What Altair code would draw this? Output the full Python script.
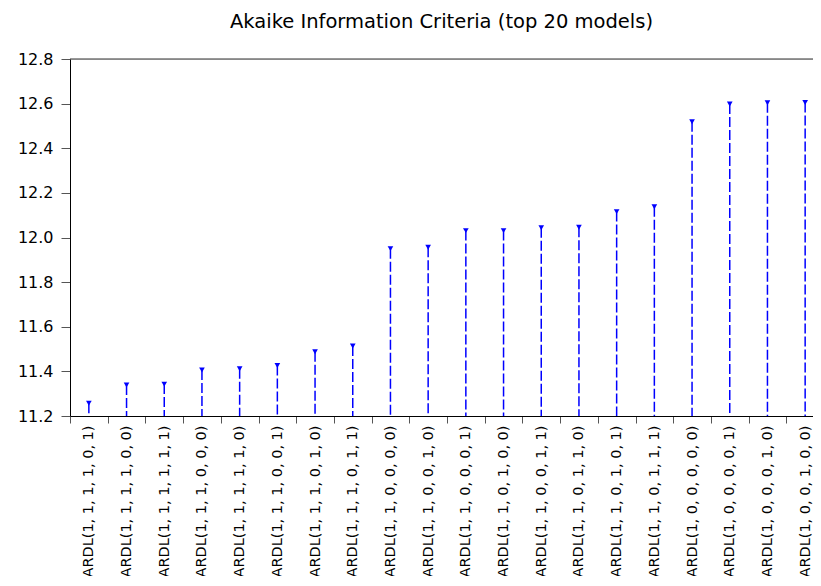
import altair as alt
import pandas as pd

models = [
    "ARDL(1, 1, 1, 1, 0, 1)", "ARDL(1, 1, 1, 1, 0, 0)", "ARDL(1, 1, 1, 1, 1, 1)",
    "ARDL(1, 1, 1, 0, 0, 0)", "ARDL(1, 1, 1, 1, 1, 0)", "ARDL(1, 1, 1, 0, 0, 1)",
    "ARDL(1, 1, 1, 0, 1, 0)", "ARDL(1, 1, 1, 0, 1, 1)", "ARDL(1, 1, 0, 0, 0, 0)",
    "ARDL(1, 1, 0, 0, 1, 0)", "ARDL(1, 1, 0, 0, 0, 1)", "ARDL(1, 1, 0, 1, 0, 0)",
    "ARDL(1, 1, 0, 0, 1, 1)", "ARDL(1, 1, 0, 1, 1, 0)", "ARDL(1, 1, 0, 1, 0, 1)",
    "ARDL(1, 1, 0, 1, 1, 1)", "ARDL(1, 0, 0, 0, 0, 0)", "ARDL(1, 0, 0, 0, 0, 1)",
    "ARDL(1, 0, 0, 0, 1, 0)", "ARDL(1, 0, 0, 1, 0, 0)",
]
aic = [
    11.257, 11.339, 11.343, 11.406, 11.412, 11.426, 11.488, 11.514, 11.950, 11.956,
    12.031, 12.031, 12.044, 12.046, 12.116, 12.138, 12.519, 12.598, 12.604, 12.605,
]
y_ticks = [11.2, 11.4, 11.6, 11.8, 12.0, 12.2, 12.4, 12.6, 12.8]

df = pd.DataFrame({"model": models, "aic": aic})

FONT = "DejaVu Sans"
BAND_EXTENT = 754  # x scale range: the plot runs on to the right page edge

x_enc = alt.X(
    "model:N",
    sort=models,
    scale=alt.Scale(paddingInner=0, paddingOuter=0, range=[0, BAND_EXTENT]),
    axis=alt.Axis(
        title=None,
        labelAngle=-90,
        labelFont=FONT,
        labelFontSize=14.5,
        labelColor="black",
        labelPadding=2,
        tickBand="extent",
        tickSize=7,
        tickColor="#555555",
        domainColor="black",
        labelOverlap=False,
    ),
)
y_scale = alt.Scale(domain=[11.2, 12.8], nice=False, zero=False)
y_axis = alt.Axis(
    title=None,
    values=y_ticks,
    format=".1f",
    labelFont=FONT,
    labelFontSize=16,
    labelColor="black",
    labelPadding=8,
    tickSize=9,
    tickColor="#555555",
    domainColor="black",
    grid=False,
)

stems = alt.Chart(df).mark_rule(
    color="#0000FF", strokeWidth=1.5, strokeDash=[10, 3]
).encode(
    x=x_enc,
    y=alt.Y("aic:Q", scale=y_scale, axis=y_axis),
    y2=alt.datum(11.2),
)

markers = alt.Chart(df).mark_point(
    shape="triangle-down", filled=True, color="#0000FF", size=32, opacity=1
).encode(
    x=x_enc,
    y=alt.Y("aic:Q", scale=y_scale, axis=y_axis),
)

top_frame = alt.Chart().mark_rule(color="#333333", strokeWidth=1.2).encode(
    x=alt.value(0), x2=alt.value(BAND_EXTENT), y=alt.value(0)
)

chart = (
    alt.layer(stems, markers, top_frame)
    .properties(
        width=743,
        height=357,
        autosize=alt.AutoSizeParams(type="none"),
        padding={"left": 62, "top": 51, "right": 0, "bottom": 160},
        title=alt.TitleParams(
            "Akaike Information Criteria (top 20 models)",
            font=FONT,
            fontSize=19.5,
            fontWeight="normal",
            color="black",
            anchor="middle",
            offset=19,
        ),
    )
    .configure_view(stroke=None)
    .configure(background="white")
)

chart.save("out.html", embed_options={"renderer": "svg", "actions": False})
